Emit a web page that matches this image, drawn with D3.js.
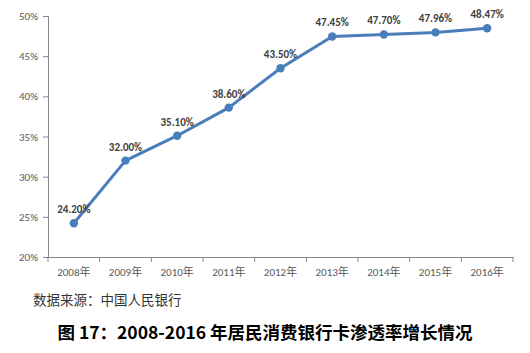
<!DOCTYPE html>
<html><head><meta charset="utf-8">
<script src="https://cdn.jsdelivr.net/npm/d3@7"></script>
<style>body{margin:0;background:#fff}</style>
</head><body>
<svg id="c" width="530" height="353"></svg>
<script>
const categories = ["2008年","2009年","2010年","2011年","2012年","2013年","2014年","2015年","2016年"];
const values = [24.20, 32.00, 35.10, 38.60, 43.50, 47.45, 47.70, 47.96, 48.47];
const valueLabels = ["24.20%","32.00%","35.10%","38.60%","43.50%","47.45%","47.70%","47.96%","48.47%"];
const yTicks = [20, 25, 30, 35, 40, 45, 50];
const sourceText = "数据来源：中国人民银行";
const titleText = "图 17：2008-2016 年居民消费银行卡渗透率增长情况";

const svg = d3.select("#c");
const x = d3.scaleBand().domain(categories).range([48, 513]);
const y = d3.scaleLinear().domain([20, 50]).range([257, 16]);
const font = "Calibri, Carlito, 'Liberation Sans', 'Noto Sans CJK SC', sans-serif";

const yAxis = svg.append("g").attr("transform","translate(48,0)")
  .call(d3.axisLeft(y).tickValues(yTicks).tickSize(5).tickFormat(d => d + "%"));
yAxis.select(".domain").attr("stroke","#868686");
yAxis.selectAll(".tick line").attr("stroke","#868686");
yAxis.selectAll("text").attr("fill","#595959").style("font-family",font).style("font-size","11px").attr("x",-10);

const xAxis = svg.append("g").attr("transform","translate(0,257)")
  .call(d3.axisBottom(x).tickSizeOuter(0).tickSize(0));
xAxis.select(".domain").attr("stroke","#868686");
xAxis.selectAll("text").attr("fill","#595959").style("font-family",font).style("font-size","11px").attr("y",11);
// tick marks at band boundaries
const bounds = categories.map(c => x(c)).concat([x.range()[1]]);
svg.append("g").selectAll("line").data(bounds).join("line")
  .attr("x1", d => d).attr("x2", d => d).attr("y1",257).attr("y2",262).attr("stroke","#868686");

const cx = d => x(d) + x.bandwidth()/2;
const line = d3.line().x((d,i) => cx(categories[i])).y(d => y(d));
svg.append("path").datum(values).attr("d", line).attr("fill","none")
  .attr("stroke","#4a7ebb").attr("stroke-width",3).attr("stroke-linejoin","round");
svg.append("g").selectAll("circle").data(values).join("circle")
  .attr("cx",(d,i)=>cx(categories[i])).attr("cy",d=>y(d)).attr("r",4.2).attr("fill","#4a7ebb");
svg.append("g").selectAll("text").data(values).join("text")
  .attr("x",(d,i)=>cx(categories[i])).attr("y",d=>y(d)-10)
  .attr("text-anchor","middle").attr("fill","#404040").attr("font-weight","bold")
  .style("font-family",font).style("font-size","11px").text((d,i)=>valueLabels[i]);

svg.append("text").attr("x",33).attr("y",305).attr("fill","#333")
  .style("font-family","'Noto Sans CJK SC', sans-serif").style("font-size","13.5px").text(sourceText);
svg.append("text").attr("x",265).attr("y",339).attr("text-anchor","middle").attr("fill","#000")
  .attr("font-weight","bold").style("font-family","'Noto Sans CJK SC', sans-serif").style("font-size","17.5px").text(titleText);
</script>
</body></html>
